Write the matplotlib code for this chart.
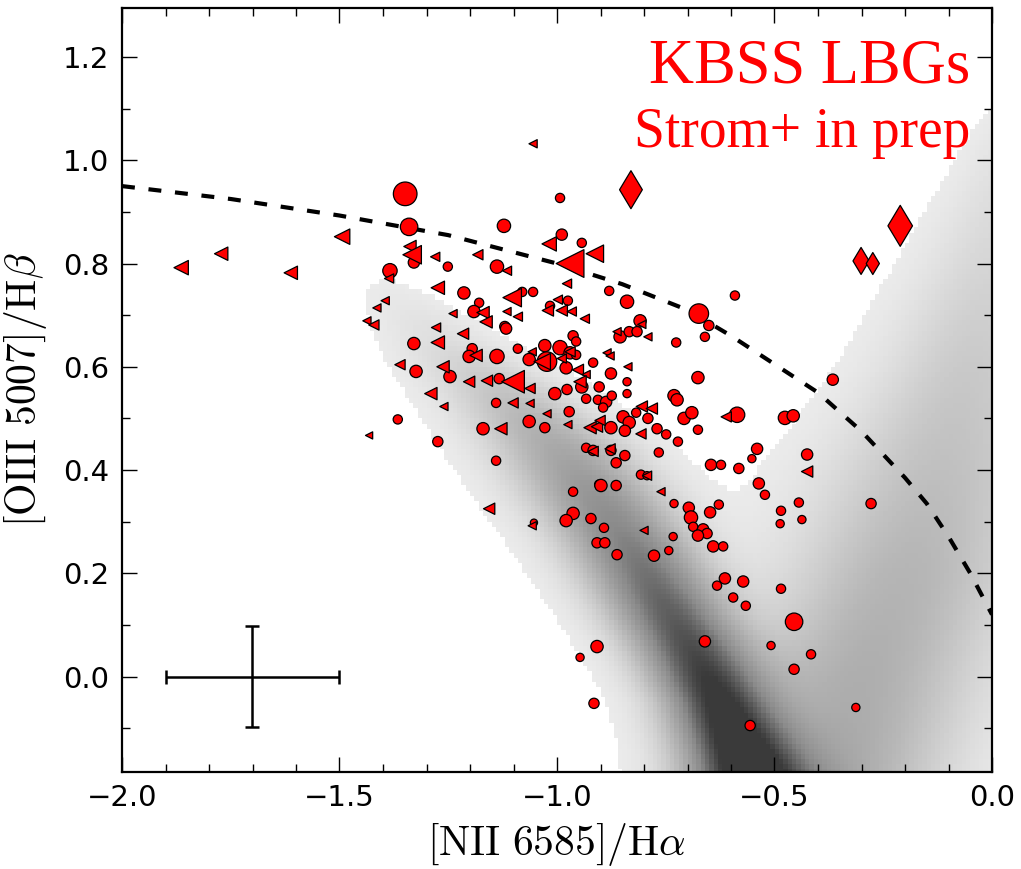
import numpy as np
import matplotlib
matplotlib.use("Agg")
import matplotlib.pyplot as plt
from matplotlib.colors import LinearSegmentedColormap, Normalize

plt.rcParams['mathtext.fontset'] = 'cm'
plt.rcParams['font.family'] = 'DejaVu Sans'

# ---------------- data ----------------
# KBSS LBGs: circles
circ_x = [-1.349, -1.340, -1.329, -1.384, -0.993, -1.122, -0.989, -0.943, -1.251, -1.138,
          -0.880, -0.839, -1.214, -1.080, -1.055, -1.179, -1.191, -1.120, -1.016, -0.975,
          -0.809, -1.117, -1.329, -1.195, -1.202, -1.138, -1.090, -1.028, -0.993, -0.963,
          -0.956, -1.064, -1.023, -0.970, -0.956, -0.917, -1.324, -1.246, -1.133, -0.979,
          -0.943, -0.903, -1.005, -0.977, -0.933, -0.906, -1.140, -0.972, -1.366, -1.274,
          -1.170, -1.064, -1.028, -0.933, -1.140, -0.963, -0.903, -0.855, -0.834, -0.816,
          -0.726, -0.660, -0.591, -0.674, -0.651, -0.876, -0.676, -0.366, -0.839, -0.887,
          -0.874, -0.894, -0.839, -0.731, -0.724, -0.876, -0.848, -0.834, -0.844, -0.818,
          -0.791, -0.770, -0.749, -0.722, -0.708, -0.690, -0.676, -0.586, -0.476, -0.457,
          -0.917, -0.876, -0.844, -0.864, -0.766, -0.540, -0.552, -0.425, -0.646, -0.623,
          -0.582, -0.807, -0.793, -0.899, -0.864, -0.536, -0.522, -0.444, -0.731, -0.697,
          -0.628, -0.648, -0.692, -0.485, -0.487, -0.437, -0.963, -0.979, -0.922, -0.892,
          -0.687, -0.664, -0.655, -0.676, -0.733, -0.908, -0.890, -0.641, -0.618, -0.743,
          -0.862, -0.777, -1.053, -0.614, -0.632, -0.572, -0.485, -0.595, -0.566, -0.455,
          -0.660, -0.508, -0.416, -0.455, -0.313, -0.556, -0.908, -0.947, -0.915, -0.278]
circ_y = [0.935, 0.871, 0.802, 0.786, 0.927, 0.873, 0.856, 0.840, 0.794, 0.794,
          0.747, 0.726, 0.743, 0.745, 0.745, 0.724, 0.707, 0.678, 0.718, 0.728,
          0.689, 0.674, 0.645, 0.635, 0.620, 0.620, 0.635, 0.641, 0.637, 0.660,
          0.649, 0.614, 0.610, 0.627, 0.623, 0.608, 0.591, 0.581, 0.577, 0.598,
          0.561, 0.561, 0.548, 0.556, 0.538, 0.536, 0.530, 0.513, 0.498, 0.455,
          0.480, 0.494, 0.482, 0.443, 0.418, 0.358, 0.372, 0.658, 0.668, 0.668,
          0.647, 0.658, 0.738, 0.703, 0.680, 0.587, 0.579, 0.575, 0.571, 0.532,
          0.544, 0.521, 0.548, 0.544, 0.536, 0.482, 0.503, 0.492, 0.476, 0.511,
          0.500, 0.480, 0.469, 0.455, 0.500, 0.511, 0.478, 0.507, 0.501, 0.505,
          0.438, 0.438, 0.428, 0.414, 0.434, 0.441, 0.422, 0.430, 0.410, 0.410,
          0.403, 0.391, 0.389, 0.370, 0.370, 0.374, 0.352, 0.337, 0.335, 0.327,
          0.333, 0.318, 0.308, 0.321, 0.296, 0.304, 0.316, 0.302, 0.306, 0.288,
          0.290, 0.285, 0.277, 0.273, 0.271, 0.259, 0.259, 0.252, 0.252, 0.244,
          0.236, 0.234, 0.298, 0.190, 0.176, 0.184, 0.170, 0.153, 0.137, 0.106,
          0.068, 0.060, 0.043, 0.014, -0.060, -0.095, 0.058, 0.037, -0.052, 0.335]
circ_size = [23, 17, 11, 14, 9, 13, 11, 9, 9, 13,
             9, 13, 12, 9, 9, 9, 12, 10, 9, 9,
             12, 11, 12, 10, 12, 14, 9, 12, 14, 10,
             9, 12, 19, 12, 9, 9, 12, 12, 10, 12,
             12, 10, 12, 10, 9, 9, 9, 10, 9, 10,
             12, 12, 10, 9, 9, 9, 9, 12, 10, 10,
             9, 9, 9, 19, 10, 11, 12, 11, 8, 11,
             9, 9, 8, 12, 12, 12, 12, 12, 11, 9,
             10, 10, 9, 9, 12, 12, 9, 15, 13, 12,
             10, 10, 10, 10, 9, 11, 8, 11, 11, 9,
             10, 9, 8, 12, 10, 11, 9, 9, 8, 11,
             9, 11, 13, 9, 8, 8, 12, 12, 10, 9,
             9, 11, 10, 11, 8, 10, 10, 11, 9, 8,
             10, 11, 7, 11, 9, 11, 9, 9, 9, 17,
             11, 8, 9, 10, 8, 10, 12, 8, 10, 10]

# KBSS LBGs: left triangles
tri_x = [-1.494, -1.772, -1.864, -1.612, -1.338, -1.333, -1.386, -1.395, -1.414, -1.437,
         -1.421, -1.055, -1.018, -0.913, -0.970, -1.280, -1.182, -1.115, -0.977, -1.274,
         -1.103, -1.170, -1.163, -1.239, -1.115, -1.090, -1.021, -0.989, -0.966, -0.936,
         -0.805, -1.278, -1.216, -1.274, -1.186, -1.057, -1.034, -0.989, -1.361, -1.262,
         -1.202, -1.161, -1.101, -0.952, -0.933, -0.947, -1.062, -1.290, -1.260, -1.101,
         -1.062, -1.023, -0.975, -1.432, -1.129, -0.924, -0.908, -0.901, -0.917, -0.878,
         -0.837, -0.791, -0.805, -0.782, -0.807, -0.611, -0.425, -0.793, -0.761, -0.800,
         -1.156, -1.057, -0.862, -0.885, -0.878, -0.998, -0.970]
tri_y = [0.852, 0.819, 0.792, 0.782, 0.833, 0.817, 0.771, 0.728, 0.714, 0.689,
         0.681, 1.032, 0.838, 0.819, 0.800, 0.813, 0.817, 0.786, 0.761, 0.753,
         0.734, 0.705, 0.687, 0.703, 0.707, 0.697, 0.709, 0.709, 0.707, 0.693,
         0.682, 0.676, 0.664, 0.647, 0.622, 0.629, 0.610, 0.616, 0.604, 0.600,
         0.571, 0.573, 0.571, 0.594, 0.585, 0.571, 0.558, 0.548, 0.523, 0.530,
         0.529, 0.509, 0.488, 0.467, 0.480, 0.482, 0.484, 0.496, 0.436, 0.441,
         0.600, 0.658, 0.523, 0.519, 0.470, 0.503, 0.397, 0.389, 0.358, 0.283,
         0.325, 0.292, 0.668, 0.627, 0.621, 0.730, 0.629]
tri_size = [15, 13, 14, 13, 12, 18, 9, 8, 8, 8,
            10, 8, 14, 17, 27, 9, 10, 9, 9, 13,
            18, 12, 12, 8, 8, 9, 11, 11, 9, 9,
            8, 9, 11, 13, 12, 8, 16, 9, 10, 12,
            11, 11, 22, 11, 8, 12, 10, 12, 8, 10,
            8, 8, 8, 7, 12, 12, 11, 10, 10, 10,
            8, 8, 11, 11, 10, 10, 11, 9, 8, 8,
            11, 8, 8, 8, 8, 9, 10]

# KBSS LBGs: diamonds
dia_x = [-0.830, -0.211, -0.301, -0.274]
dia_y = [0.943, 0.873, 0.805, 0.800]
dia_size = [38, 41, 27, 22]

# dividing curve
curve_x = [-2.0, -1.75, -1.5, -1.25, -1.0, -0.85, -0.7, -0.6, -0.5, -0.4, -0.3,
           -0.2, -0.15, -0.1, -0.05, 0.0]
curve_y = [0.950, 0.925, 0.893, 0.855, 0.800, 0.760, 0.710, 0.660, 0.605, 0.550,
           0.475, 0.385, 0.335, 0.271, 0.200, 0.120]

# typical error bar
err_x, err_y = -1.70, 0.0
err_dx, err_dy = 0.20, 0.097

# SDSS background: ridge descriptions of the star-forming and AGN branches
sf_y = [-0.20, -0.15, -0.05, 0.05, 0.15, 0.25, 0.35, 0.45, 0.55, 0.65, 0.75, 0.80]
sf_cx = [-0.56, -0.58, -0.63, -0.69, -0.76, -0.83, -0.91, -1.00, -1.12, -1.26, -1.38, -1.42]
sf_w = [0.100, 0.095, 0.090, 0.095, 0.100, 0.105, 0.110, 0.110, 0.100, 0.085, 0.060, 0.050]
sf_amp = [1.00, 1.00, 0.96, 0.90, 0.82, 0.72, 0.60, 0.45, 0.28, 0.11, 0.03, 0.0]
agn_y = [-0.20, 0.00, 0.20, 0.40, 0.60, 0.80, 1.00, 1.10, 1.15]
agn_cx = [-0.36, -0.30, -0.20, -0.12, -0.05, 0.00, 0.03, 0.04, 0.05]
agn_w = [0.17, 0.19, 0.19, 0.18, 0.14, 0.11, 0.07, 0.05, 0.04]
agn_amp = [0.45, 0.42, 0.37, 0.30, 0.24, 0.16, 0.08, 0.03, 0.0]

xticks = [-2.0, -1.5, -1.0, -0.5, 0.0]
yticks = [0.0, 0.2, 0.4, 0.6, 0.8, 1.0, 1.2]

# ---------------- figure ----------------
fig = plt.figure(figsize=(10.21, 8.69), dpi=100)
ax = fig.add_axes([122/1021, 1-772/869, 870/1021, 764/869])

# background density
xe = np.arange(-2.0, 0.0001, 0.01)
ye = np.arange(-0.20, 1.31, 0.01)
xc = 0.5*(xe[:-1]+xe[1:])
yc = 0.5*(ye[:-1]+ye[1:])
X, Y = np.meshgrid(xc, yc)
d_sf = np.interp(Y, sf_y, sf_amp) * np.exp(-0.5*((X-np.interp(Y, sf_y, sf_cx))/np.interp(Y, sf_y, sf_w))**2)
d_ag = np.interp(Y, agn_y, agn_amp) * np.exp(-0.5*((X-np.interp(Y, agn_y, agn_cx))/np.interp(Y, agn_y, agn_w))**2)
dens = d_sf + d_ag
thr = 0.02
cmap = LinearSegmentedColormap.from_list('g', ['#ebebeb', '#b8b8b8', '#8a8a8a', '#3a3a3a'])
ax.pcolormesh(xe, ye, np.ma.masked_less(dens, thr), cmap=cmap,
              norm=Normalize(thr, 1.0), shading='flat', zorder=0, rasterized=True)

# dividing line
ax.plot(curve_x, curve_y, color='k', lw=3.0, linestyle=(0, (3.1, 3.3)), zorder=2)

# error bar
ax.errorbar([err_x], [err_y], xerr=[err_dx], yerr=[err_dy], fmt='none', ecolor='k',
            elinewidth=1.8, capsize=5, capthick=1.8, zorder=3)

def pts(px):
    return (np.asarray(px, float) * 0.74) ** 2

ax.scatter(circ_x, circ_y, s=pts(circ_size), marker='o', facecolor='red',
           edgecolor='k', linewidth=0.9, zorder=4)
ax.scatter(tri_x, tri_y, s=pts(tri_size), marker='<', facecolor='red',
           edgecolor='k', linewidth=0.9, zorder=5)
ax.scatter(dia_x, dia_y, s=(np.asarray(dia_size, float)*0.509)**2, marker='d',
           facecolor='red', edgecolor='k', linewidth=0.9, zorder=6)

ax.text(0.975, 0.903, 'KBSS LBGs', transform=ax.transAxes, ha='right', va='baseline',
        color='red', fontsize=45, family='Liberation Serif', zorder=7)
ax.text(0.975, 0.818, 'Strom+ in prep', transform=ax.transAxes, ha='right', va='baseline',
        color='red', fontsize=40, family='Liberation Serif', zorder=7)

ax.set_xlim(-2.0, 0.0)
ax.set_ylim(-0.185, 1.295)
ax.set_xticks(xticks)
ax.set_yticks(yticks)
ax.set_xticks(np.arange(-2.0, 0.001, 0.1), minor=True)
ax.set_yticks(np.arange(-0.1, 1.29, 0.1), minor=True)
ax.tick_params(which='both', direction='in', top=True, right=True, labelsize=21, pad=9)
ax.tick_params(which='major', length=11, width=1.0)
ax.tick_params(which='minor', length=6, width=1.0)
for s in ax.spines.values():
    s.set_linewidth(1.6)

ax.set_xlabel(r'$[\mathrm{NII}\ 6585]/\mathrm{H}\alpha$', fontsize=30, labelpad=6)
ax.set_ylabel(r'$[\mathrm{OIII}\ 5007]/\mathrm{H}\beta$', fontsize=30, labelpad=10)

fig.savefig('out.png', dpi=100)
